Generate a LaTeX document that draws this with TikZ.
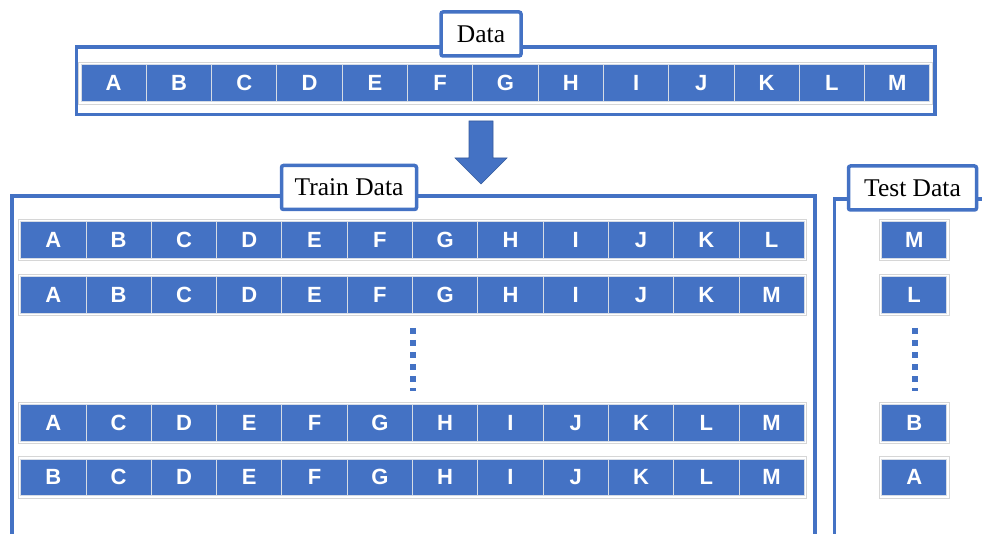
\documentclass[tikz,border=0pt]{standalone}
\usepackage{fontspec}
\setmainfont{Liberation Serif}
\setsansfont{Liberation Sans}
\usetikzlibrary{positioning,fit}

\definecolor{cellblue}{HTML}{4472C4}
\definecolor{rowgray}{HTML}{D6D6D6}
\definecolor{sepblue}{HTML}{D6DCE5}

\begin{document}
\begin{tikzpicture}[x=1pt, y=-1pt,
      frame/.style={draw=cellblue, line width=3.5pt},
      tag/.style={draw=cellblue, line width=3.5pt, fill=white, rounded corners=2pt, minimum height=44pt, inner sep=0pt, font=\fontsize{25.5}{30}\selectfont},
      cell/.style={fill=cellblue, draw=sepblue, line width=1pt, minimum width=65.3pt, minimum height=36.6pt, inner sep=0pt, text=white, font=\sffamily\bfseries\fontsize{22}{26}\selectfont},
      rowbox/.style={draw=rowgray, line width=0.8pt, inner sep=2pt},
      vdots/.style={draw=cellblue, line width=6pt, dash pattern=on 6pt off 6pt}]
    \clip (0,0) rectangle (982,534);
    % frames round the full set and the two splits
    \draw[frame] (76.5,47) rectangle (935,114.5);
    \draw[frame] (12,196) rectangle (815,560);
    \draw[frame] (834.5,199) rectangle (1000,560);
    \node[tag, minimum width=80pt] (lbldata) at (481,34) {Data};
    \node[tag, minimum width=135pt] (lbltrain) at (349,187.5) {Train Data};
    \node[tag, minimum width=128pt] (lbltest) at (912.5,188) {Test Data};
    % full data row
    \foreach \c [count=\i] in {A,B,C,D,E,F,G,H,I,J,K,L,M}
      \node[cell] (d\i) at (81+65.3*\i-32.65, 83.3) {\c};
    \node[rowbox, fit=(d1)(d13)] (drow) {};
    % split arrow
    \fill[cellblue, draw=cellblue!80!black, line width=0.6pt] (469,121) -- (493,121) -- (493,158) -- (507,158) -- (481,184) -- (455,158) -- (469,158) -- cycle;
    % training rows, one letter left out each
    \foreach \y/\letters [count=\r] in {240/{A,B,C,D,E,F,G,H,I,J,K,L}, 295/{A,B,C,D,E,F,G,H,I,J,K,M}, 422.7/{A,C,D,E,F,G,H,I,J,K,L,M}, 477.3/{B,C,D,E,F,G,H,I,J,K,L,M}} {
      \foreach \c [count=\i] in \letters
        \node[cell] (t\r-\i) at (20.7+65.3*\i-32.65, \y) {\c};
      \node[rowbox, fit=(t\r-1)(t\r-12)] (trow\r) {};
    }
    % held-out letters
    \foreach \y/\c [count=\r] in {240/M, 295/L, 422.7/B, 477.3/A} {
      \node[cell, minimum width=65pt] (s\r) at (914.2,\y) {\c};
      \node[rowbox, fit=(s\r)] (srow\r) {};
    }
    \draw[vdots] (412.7,328) -- (412.7,391);
    \draw[vdots] (915,328) -- (915,391);
  \end{tikzpicture}
\end{document}
